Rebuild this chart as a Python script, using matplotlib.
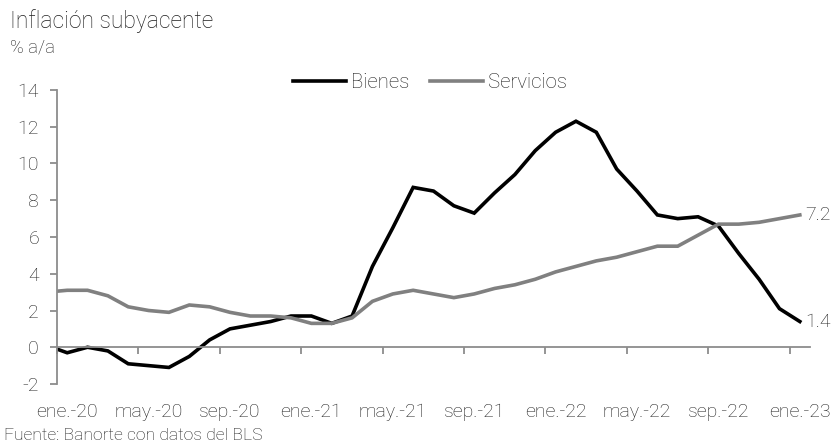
import matplotlib
matplotlib.use("Agg")
import matplotlib.pyplot as plt
import matplotlib.transforms as mtransforms
import numpy as np

plt.rcParams['font.family'] = ['Roboto', 'DejaVu Sans']
plt.rcParams['font.weight'] = 'light'

# Data: monthly, Dec 2019 (clipped at axis edge) through Jan 2023
months = ["dic.-19",
          "ene.-20", "feb.-20", "mar.-20", "abr.-20", "may.-20", "jun.-20", "jul.-20", "ago.-20",
          "sep.-20", "oct.-20", "nov.-20", "dic.-20",
          "ene.-21", "feb.-21", "mar.-21", "abr.-21", "may.-21", "jun.-21", "jul.-21", "ago.-21",
          "sep.-21", "oct.-21", "nov.-21", "dic.-21",
          "ene.-22", "feb.-22", "mar.-22", "abr.-22", "may.-22", "jun.-22", "jul.-22", "ago.-22",
          "sep.-22", "oct.-22", "nov.-22", "dic.-22",
          "ene.-23"]
bienes = [0.1,
          -0.3, 0.0, -0.2, -0.9, -1.0, -1.1, -0.5, 0.4, 1.0, 1.2, 1.4, 1.7,
          1.7, 1.3, 1.7, 4.4, 6.5, 8.7, 8.5, 7.7, 7.3, 8.4, 9.4, 10.7,
          11.7, 12.3, 11.7, 9.7, 8.5, 7.2, 7.0, 7.1, 6.6, 5.1, 3.7, 2.1,
          1.4]
servicios = [3.0,
             3.1, 3.1, 2.8, 2.2, 2.0, 1.9, 2.3, 2.2, 1.9, 1.7, 1.7, 1.6,
             1.3, 1.3, 1.6, 2.5, 2.9, 3.1, 2.9, 2.7, 2.9, 3.2, 3.4, 3.7,
             4.1, 4.4, 4.7, 4.9, 5.2, 5.5, 5.5, 6.1, 6.7, 6.7, 6.8, 7.0,
             7.2]
tick_labels = ["ene.-20", "may.-20", "sep.-20", "ene.-21", "may.-21", "sep.-21",
               "ene.-22", "may.-22", "sep.-22", "ene.-23"]
yticks = [-2, 0, 2, 4, 6, 8, 10, 12, 14]

x = np.arange(len(months)) - 1  # Jan 2020 at 0

fig = plt.figure(figsize=(8.32, 4.44), dpi=100)
ax = fig.add_axes([57/832, 60/444, 753/832, 294/444])

txt = '#1f1f1f'
axc = '#8c8c8c'
ax.plot(x, bienes, color='black', lw=2.6, label='Bienes', solid_joinstyle='miter')
ax.plot(x, servicios, color='#808080', lw=2.6, label='Servicios', solid_joinstyle='miter')

ax.set_xlim(-0.5, 36.5)
ax.set_ylim(-2, 14)
ax.set_yticks(yticks)
ax.set_yticklabels([str(v) for v in yticks])

for s in ['top', 'right']:
    ax.spines[s].set_visible(False)
ax.spines['left'].set_color(axc)
ax.spines['left'].set_linewidth(1.3)
ax.spines['bottom'].set_position(('data', 0))
ax.spines['bottom'].set_color(axc)
ax.spines['bottom'].set_linewidth(1.3)

ax.set_xticks(np.arange(-0.5, 37, 4))
ax.set_xticklabels([])
ax.tick_params(axis='x', direction='out', length=5, width=1.3, color=axc)
ax.tick_params(axis='y', direction='out', length=5, width=1.3, color=axc,
               labelsize=14, labelcolor=txt, pad=8)

trans = mtransforms.blended_transform_factory(ax.transData, ax.transAxes)
label_pos = np.arange(0, 37, 4)
for xp, lab in zip(label_pos, tick_labels):
    ax.text(xp, -0.095, lab, transform=trans, ha='center', va='center',
            fontsize=14, color=txt)

ax.annotate(f"{servicios[-1]:.1f}", (x[-1], servicios[-1]), xytext=(4, 0),
            textcoords='offset points', ha='left', va='center', fontsize=14, color=txt)
ax.annotate(f"{bienes[-1]:.1f}", (x[-1], bienes[-1]), xytext=(4, 0),
            textcoords='offset points', ha='left', va='center', fontsize=14, color=txt)

leg = ax.legend(loc='center', bbox_to_anchor=(430/832, 1-83/444), bbox_transform=fig.transFigure,
                ncol=2, frameon=False, fontsize=14.7, handlelength=2.6, handletextpad=0.25,
                columnspacing=1.0, borderpad=0)
for t in leg.get_texts():
    t.set_color(txt)

fig.text(10/832, 1-21/444, "Inflación subyacente", fontsize=16.5, color=txt, ha='left', va='center')
fig.text(10/832, 1-47/444, "% a/a", fontsize=13.3, color=txt, ha='left', va='center')
fig.text(4/832, 1-435/444, "Fuente: Banorte con datos del BLS", fontsize=12.6, color=txt,
         ha='left', va='center')

fig.savefig("out.png", dpi=100)
